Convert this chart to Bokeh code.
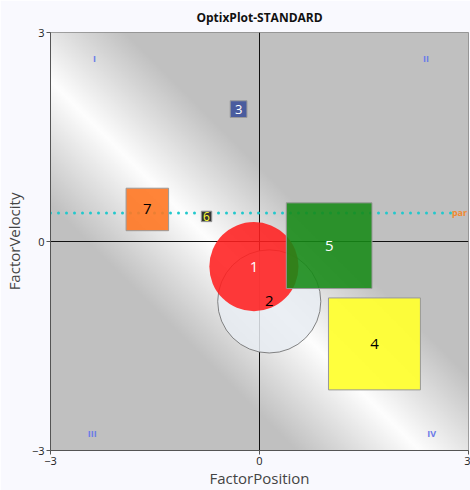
import numpy as np
from bokeh.plotting import figure
from bokeh.models import Range1d, FixedTicker, Span, ColumnDataSource
from bokeh.core.properties import value
from bokeh.embed import file_html
from bokeh.resources import INLINE

# ---- data ----
circle_names = ["1", "2"]
circle_x = [-0.08, 0.14]
circle_y = [-0.36, -0.86]
circle_r = [0.64, 0.74]

square_names = ["3", "4", "5", "6", "7"]
square_x = [-0.30, 1.65, 1.00, -0.76, -1.61]
square_y = [1.90, -1.47, -0.06, 0.36, 0.46]
square_size = [0.24, 1.32, 1.23, 0.15, 0.61]

threshold_y = 0.41
threshold_x = [-3.0, 2.85]
threshold_label = "par"

quadrant_names = ["I", "II", "III", "IV"]
quadrant_x = [-2.37, 2.39, -2.40, 2.47]
quadrant_y = [2.62, 2.62, -2.76, -2.76]

ticks = [-3, 0, 3]

FONT = "Open Sans"

p = figure(width=470, height=490, x_range=Range1d(-3, 3), y_range=Range1d(-3, 3),
           output_backend="svg", toolbar_location=None, title="OptixPlot-STANDARD",
           min_border_left=48, min_border_right=2, min_border_top=31, min_border_bottom=39)
p.title.align = "center"
p.title.text_font = FONT
p.title.text_font_size = "12px"
p.title.text_font_style = "bold"
p.title.text_color = "#111111"
p.title.standoff = 13
p.border_fill_color = "#f9f9fe"
p.outline_line_color = "#888888"
p.grid.visible = False

for ax in (p.xaxis[0], p.yaxis[0]):
    ax.ticker = FixedTicker(ticks=ticks)
    ax.minor_tick_line_color = None
    ax.major_tick_out = 4
    ax.major_tick_in = 0
    ax.axis_line_color = "#555555"
    ax.major_tick_line_color = "#555555"
    ax.major_label_text_font = FONT
    ax.major_label_text_font_size = "11px"
    ax.major_label_text_color = "#222222"
    ax.axis_label_text_font = FONT
    ax.axis_label_text_font_size = "15px"
    ax.axis_label_text_font_style = "normal"
    ax.axis_label_text_color = "#444444"
    ax.major_label_standoff = 2
    ax.axis_label_standoff = 0
p.yaxis.axis_label_standoff = 5
p.xaxis.axis_label = "FactorPosition"
p.yaxis.axis_label = "FactorVelocity"

# background gradient (white diagonal band)
n = 300
xs = np.linspace(-3, 3, n)
X, Y = np.meshgrid(xs, xs)
d = np.abs(X + Y + 0.7)
g = 192 + 62 * np.clip(1 - d / 1.8, 0, 1)
g = g.astype(np.uint32)
img = (255 << 24) | (g << 16) | (g << 8) | g
p.image_rgba(image=[img.astype(np.uint32)], x=-3, y=-3, dw=6, dh=6, level="image")

# crosshair
p.add_layout(Span(location=0, dimension="width", line_color="#111111", line_width=1, level="underlay"))
p.add_layout(Span(location=0, dimension="height", line_color="#111111", line_width=1, level="underlay"))

# threshold dotted line
p.line(threshold_x, [threshold_y, threshold_y], line_color="#22c8cc", line_width=3,
       line_dash="0 8", line_cap="round")
p.text([2.98], [threshold_y], text=[threshold_label], text_color="#f08a30",
       text_font=value(FONT), text_font_size="9px", text_font_style="bold",
       text_align="right", text_baseline="middle")

# quadrant labels
p.text(quadrant_x, quadrant_y, text=quadrant_names, text_color="#6a7ae8",
       text_font=value(FONT), text_font_size="9px", text_font_style="bold",
       text_align="center", text_baseline="middle")

# circles (2 drawn first, then 1)
circ_fill = ["#ff1f1f", "#e8ecf2"]
circ_alpha = [0.88, 0.85]
circ_text = ["#ffffff", "#000000"]
for i in [1, 0]:
    p.circle([circle_x[i]], [circle_y[i]], radius=circle_r[i], fill_color=circ_fill[i],
             fill_alpha=circ_alpha[i], line_color="#666666" if i == 1 else None, line_alpha=0.8)

sq_fill = ["#4a5c9e", "#ffff33", "#168a16", "#333333", "#ff7722"]
sq_alpha = [1.0, 0.95, 0.88, 1.0, 0.9]
sq_text = ["#ffffff", "#000000", "#ffffff", "#ffff33", "#000000"]
sq_font = ["13px", "15px", "15px", "12px", "15px"]
src = ColumnDataSource(dict(x=square_x, y=square_y, s=square_size, fill=sq_fill, alpha=sq_alpha))
p.rect("x", "y", width="s", height="s", source=src, fill_color="fill", fill_alpha="alpha",
       line_color="#999999", line_width=1)

for i in range(len(circle_names)):
    p.text([circle_x[i]], [circle_y[i]], text=[circle_names[i]],
           text_color=circ_text[i], text_font=value(FONT), text_font_size="15px",
           text_align="center", text_baseline="middle")
for i in range(len(square_names)):
    p.text([square_x[i]], [square_y[i]], text=[square_names[i]], text_color=sq_text[i],
           text_font=value(FONT), text_font_size=sq_font[i],
           text_align="center", text_baseline="middle")

open("out.html", "w").write(file_html(p, INLINE))
